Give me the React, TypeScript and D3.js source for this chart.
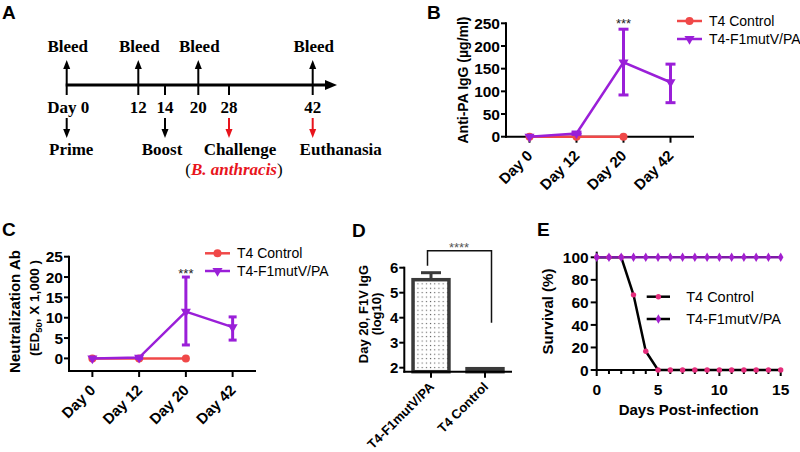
import React from "react";
import * as d3 from "d3";

const SANS = "'Liberation Sans', Arial, Helvetica, sans-serif";
const SERIF = "'Liberation Serif', 'Times New Roman', Times, serif";

// ---------- Panel A: timeline ----------
const timelineDays = [0, 12, 14, 20, 28, 42];
const timelineDayLabels = ["Day 0", "12", "14", "20", "28", "42"];
const bleedDays = [0, 12, 20, 42];
const eventDays = [0, 14, 28, 42];
const eventLabels = ["Prime", "Boost", "Challenge", "Euthanasia"];
const eventIsChallenge = [false, false, true, true];

// ---------- Panels B & C ----------
const categories = ["Day 0", "Day 12", "Day 20", "Day 42"];
const legendNames = ["T4 Control", "T4-F1mutV/PA"];

const bControl = [0, 0, 0];
const bVaccine = [0, 7, 164, 120];
const bVaccineLow = [0, 5, 92, 75];
const bVaccineHigh = [0, 9, 237, 160];
const bTicks = [0, 50, 100, 150, 200, 250];

const cControl = [0, 0, 0];
const cVaccine = [0, 0.2, 11.5, 7.7];
const cVaccineLow = [0, 0, 3.3, 4.5];
const cVaccineHigh = [0, 0.4, 20, 10.2];
const cTicks = [0, 5, 10, 15, 20, 25];

// ---------- Panel D ----------
const dGroups = ["T4-F1mutV/PA", "T4 Control"];
const dMeans = [5.52, 1.96];
const dSD = [0.28, 0];
const dTicks = [2, 3, 4, 5, 6];

// ---------- Panel E ----------
const eDays = [0, 1, 2, 3, 4, 5, 6, 7, 8, 9, 10, 11, 12, 13, 14, 15];
const eControl = [100, 100, 100, 66.7, 16.7, 0, 0, 0, 0, 0, 0, 0, 0, 0, 0, 0];
const eVaccine = [100, 100, 100, 100, 100, 100, 100, 100, 100, 100, 100, 100, 100, 100, 100, 100];
const eYTicks = [0, 20, 40, 60, 80, 100];
const eXTicks = [0, 5, 10, 15];

const RED = "#f04848";
const PURPLE = "#9a1fd8";
const ARROW_RED = "#e8141c";
const PINK = "#e52d7c";
const PURPLE_E = "#a21fcf";

function PanelLabel({ x, y, text }: { x: number; y: number; text: string }) {
  return (
    <text x={x} y={y} fontFamily={SANS} fontWeight="bold" fontSize={19}>
      {text}
    </text>
  );
}

function PanelA() {
  const x = d3.scaleLinear().domain(timelineDays).range([66.7, 138.3, 165, 198.3, 229, 312.7]);
  const yL = 85;
  const labelDx = [4.5, -3, 11, 28];
  return (
    <g>
      <line x1={x(0) - 1} x2={327} y1={yL} y2={yL} stroke="#000" strokeWidth={3} />
      <polygon points={`325,${yL - 5} 337,${yL} 325,${yL + 5}`} fill="#000" />
      {timelineDays.map((d, i) => (
        <g key={"t" + i}>
          <line x1={x(d)} x2={x(d)} y1={yL} y2={yL + 10} stroke="#000" strokeWidth={2} />
          <text
            x={x(d) + (i === 0 ? 1.5 : 0)}
            y={113}
            textAnchor="middle"
            fontFamily={SERIF}
            fontWeight="bold"
            fontSize={17}
          >
            {timelineDayLabels[i]}
          </text>
        </g>
      ))}
      {bleedDays.map((d, i) => (
        <g key={"b" + i}>
          <line x1={x(d)} x2={x(d)} y1={yL} y2={68} stroke="#000" strokeWidth={2} />
          <polygon points={`${x(d) - 3.5},69 ${x(d)},60 ${x(d) + 3.5},69`} fill="#000" />
          <text x={x(d) + 1} y={51.5} textAnchor="middle" fontFamily={SERIF} fontWeight="bold" fontSize={17}>
            Bleed
          </text>
        </g>
      ))}
      {eventDays.map((d, i) => {
        const col = eventIsChallenge[i] ? ARROW_RED : "#000";
        return (
          <g key={"e" + i}>
            <line x1={x(d)} x2={x(d)} y1={118} y2={130} stroke={col} strokeWidth={2} />
            <polygon points={`${x(d) - 3.5},129 ${x(d)},138 ${x(d) + 3.5},129`} fill={col} />
            <text
              x={x(d) + labelDx[i]}
              y={155}
              textAnchor="middle"
              fontFamily={SERIF}
              fontWeight="bold"
              fontSize={17}
            >
              {eventLabels[i]}
            </text>
          </g>
        );
      })}
      <text x={x(28) + 5} y={175} textAnchor="middle" fontFamily={SERIF} fontSize={17}>
        (
        <tspan fill={ARROW_RED} fontWeight="bold" fontStyle="italic">
          B. anthracis
        </tspan>
        )
      </text>
    </g>
  );
}

interface LineProps {
  xRange: [number, number];
  yDomain: [number, number];
  yRange: [number, number];
  yTop: number;
  ticks: number[];
  control: number[];
  vaccine: number[];
  low: number[];
  high: number[];
  capW: number;
  legendX: number;
  legendY: number;
  legendGap: number;
  starY: number;
}

function LineChart(p: LineProps) {
  const x = d3.scaleBand<string>().domain(categories).range(p.xRange);
  const y = d3.scaleLinear().domain(p.yDomain).range(p.yRange);
  const cx = (i: number) => (x(categories[i]) ?? 0) + x.bandwidth() / 2;
  const x0 = p.xRange[0];
  const y0 = p.yRange[0];
  const line = d3
    .line<number>()
    .x((_, i) => cx(i))
    .y((d) => y(d));
  const tri = d3.symbol().type(d3.symbolTriangle).size(44)() as string;
  return (
    <g fontFamily={SANS}>
      {/* axes */}
      <line x1={x0} x2={x0} y1={y0 + 1} y2={y(p.yTop) - 1} stroke="#000" strokeWidth={2} />
      <line x1={x0 - 1} x2={p.xRange[1]} y1={y0} y2={y0} stroke="#000" strokeWidth={2} />
      {p.ticks.map((t) => (
        <g key={"yt" + t}>
          <line x1={x0 - 5} x2={x0} y1={y(t)} y2={y(t)} stroke="#000" strokeWidth={2} />
          <text x={x0 - 6} y={y(t)} dy="0.36em" textAnchor="end" fontWeight="bold" fontSize={15.5}>
            {t}
          </text>
        </g>
      ))}
      {categories.map((c, i) => (
        <g key={"xt" + c}>
          <line x1={cx(i)} x2={cx(i)} y1={y0} y2={y0 + 6} stroke="#000" strokeWidth={2} />
          <text
            transform={`translate(${cx(i) + 4},${y0 + 20}) rotate(-45)`}
            textAnchor="end"
            fontWeight="bold"
            fontSize={15}
          >
            {c}
          </text>
        </g>
      ))}
      {/* control */}
      <path d={line(p.control) ?? ""} fill="none" stroke={RED} strokeWidth={2.5} />
      {p.control.map((v, i) => (
        <circle key={"cc" + i} cx={cx(i)} cy={y(v)} r={4} fill={RED} />
      ))}
      {/* vaccine */}
      <path d={line(p.vaccine) ?? ""} fill="none" stroke={PURPLE} strokeWidth={2.5} />
      {p.vaccine.map((v, i) =>
        p.high[i] - p.low[i] > 0.01 ? (
          <g key={"eb" + i} stroke={PURPLE} strokeWidth={3}>
            <line x1={cx(i)} x2={cx(i)} y1={y(p.low[i])} y2={y(p.high[i])} />
            <line x1={cx(i) - p.capW / 2} x2={cx(i) + p.capW / 2} y1={y(p.low[i])} y2={y(p.low[i])} />
            <line x1={cx(i) - p.capW / 2} x2={cx(i) + p.capW / 2} y1={y(p.high[i])} y2={y(p.high[i])} />
          </g>
        ) : null
      )}
      {p.vaccine.map((v, i) => (
        <path key={"vt" + i} d={tri} transform={`translate(${cx(i)},${y(v)}) rotate(180)`} fill={PURPLE} />
      ))}
      <text x={cx(2)} y={p.starY} textAnchor="middle" fontSize={13} fill="#222">
        ***
      </text>
      {/* legend */}
      {legendNames.map((n, i) => {
        const ly = p.legendY + i * p.legendGap;
        const col = i === 0 ? RED : PURPLE;
        return (
          <g key={"lg" + i}>
            <line x1={p.legendX} x2={p.legendX + 25} y1={ly} y2={ly} stroke={col} strokeWidth={2.5} />
            {i === 0 ? (
              <circle cx={p.legendX + 12.5} cy={ly} r={4} fill={col} />
            ) : (
              <path d={tri} transform={`translate(${p.legendX + 12.5},${ly}) rotate(180)`} fill={col} />
            )}
            <text x={p.legendX + 32} y={ly} dy="0.36em" fontSize={14}>
              {n}
            </text>
          </g>
        );
      })}
    </g>
  );
}

function PanelB() {
  return (
    <g>
      <LineChart
        xRange={[506, 694]}
        yDomain={[0, 250]}
        yRange={[136.7, 23.3]}
        yTop={250}
        ticks={bTicks}
        control={bControl}
        vaccine={bVaccine}
        low={bVaccineLow}
        high={bVaccineHigh}
        capW={10}
        legendX={677}
        legendY={21}
        legendGap={18}
        starY={28}
      />
      <text
        transform="translate(468,80) rotate(-90)"
        textAnchor="middle"
        fontFamily={SANS}
        fontWeight="bold"
        fontSize={14}
      >
        Anti-PA IgG (µg/ml)
      </text>
    </g>
  );
}

function PanelC() {
  return (
    <g>
      <LineChart
        xRange={[69, 256]}
        yDomain={[-3.1, 25]}
        yRange={[371, 256.7]}
        yTop={25}
        ticks={cTicks}
        control={cControl}
        vaccine={cVaccine}
        low={cVaccineLow}
        high={cVaccineHigh}
        capW={8}
        legendX={205}
        legendY={253.3}
        legendGap={17.7}
        starY={278}
      />
      <text
        transform="translate(19.5,311.5) rotate(-90)"
        textAnchor="middle"
        fontFamily={SANS}
        fontWeight="bold"
        fontSize={15}
      >
        Neutralization Ab
      </text>
      <text
        transform="translate(38.5,308) rotate(-90)"
        textAnchor="middle"
        fontFamily={SANS}
        fontWeight="bold"
        fontSize={13.5}
      >
        (ED
        <tspan fontSize={9.5} dy={3}>
          50
        </tspan>
        <tspan dy={-3}>, X 1,000 )</tspan>
      </text>
    </g>
  );
}

function PanelD() {
  const x = d3.scaleBand<string>().domain(dGroups).range([404, 512]).paddingInner(0.27).paddingOuter(0.135);
  const y = d3.scaleLinear().domain([1.84, 6]).range([371.7, 267.7]);
  const x0 = 404.3;
  const y0 = 371.7;
  const c = (i: number) => (x(dGroups[i]) ?? 0) + x.bandwidth() / 2;
  const bracketTop = y(6) - 17;
  return (
    <g fontFamily={SANS}>
      <defs>
        <pattern id="dotPat" width="4.2" height="4.4" patternUnits="userSpaceOnUse">
          <rect width="4.2" height="4.4" fill="#fff" />
          <rect x="1.6" y="1.7" width="1.1" height="1.1" fill="#555" />
        </pattern>
        <pattern id="dashPat" width="6" height="3" patternUnits="userSpaceOnUse">
          <rect width="6" height="3" fill="#fff" />
          <line x1="0.5" x2="4" y1="1.5" y2="1.5" stroke="#555" strokeWidth="1" />
        </pattern>
      </defs>
      {dGroups.map((g, i) => (
        <rect
          key={"bar" + i}
          x={x(g)! + 1.75}
          width={x.bandwidth() - 3.5}
          y={y(dMeans[i])}
          height={y0 - y(dMeans[i])}
          fill={i === 0 ? "url(#dotPat)" : "url(#dashPat)"}
          stroke="#3a3a3a"
          strokeWidth={3.5}
        />
      ))}
      {dGroups.map((g, i) =>
        dSD[i] > 0 ? (
          <g key={"err" + i} stroke="#3a3a3a" strokeWidth={3}>
            <line x1={c(i)} x2={c(i)} y1={y(dMeans[i]) - 1.5} y2={y(dMeans[i] + dSD[i])} />
            <line x1={c(i) - 10} x2={c(i) + 10} y1={y(dMeans[i] + dSD[i])} y2={y(dMeans[i] + dSD[i])} />
          </g>
        ) : null
      )}
      {/* axes */}
      <line x1={x0} x2={x0} y1={y0 + 1} y2={y(6) - 1} stroke="#000" strokeWidth={2} />
      <line x1={x0 - 1} x2={512} y1={y0} y2={y0} stroke="#000" strokeWidth={2} />
      {dTicks.map((t) => (
        <g key={"dt" + t}>
          <line x1={x0 - 5} x2={x0} y1={y(t)} y2={y(t)} stroke="#000" strokeWidth={2} />
          <text x={x0 - 6} y={y(t)} dy="0.36em" textAnchor="end" fontWeight="bold" fontSize={15}>
            {t}
          </text>
        </g>
      ))}
      {dGroups.map((g, i) => (
        <g key={"dx" + i}>
          <line x1={c(i)} x2={c(i)} y1={y0} y2={y0 + 6} stroke="#000" strokeWidth={2} />
          <text
            transform={`translate(${c(i) + 4},${y0 + 16}) rotate(-45)`}
            textAnchor="end"
            fontWeight="bold"
            fontSize={13}
          >
            {g}
          </text>
        </g>
      ))}
      {/* significance bracket */}
      <path
        d={`M${c(0) - 3.5},${y(5.8) - 7} V${bracketTop} H${c(1) + 6.5} V${y(3.8)}`}
        fill="none"
        stroke="#111"
        strokeWidth={1.5}
      />
      <text x={(c(0) + c(1)) / 2 + 1} y={bracketTop + 1} textAnchor="middle" fontSize={13} fill="#555">
        ****
      </text>
      <text
        transform="translate(368,314) rotate(-90)"
        textAnchor="middle"
        fontWeight="bold"
        fontSize={13}
      >
        Day 20,  F1V IgG
      </text>
      <text
        transform="translate(381,314) rotate(-90)"
        textAnchor="middle"
        fontWeight="bold"
        fontSize={13}
      >
        (log10)
      </text>
    </g>
  );
}

function PanelE() {
  const x = d3.scaleLinear().domain([0, 15]).range([596.7, 780.7]);
  const y = d3.scaleLinear().domain([0, 100]).range([370, 257.3]);
  const x0 = x(0);
  const y0 = y(0);
  const line = d3
    .line<number>()
    .x((_, i) => x(eDays[i]))
    .y((d) => y(d));
  const diamond = d3.symbol().type(d3.symbolDiamond).size(26)() as string;
  const minor = x.ticks(15);
  const legendX = 646.7;
  const legendY = 296.7;
  return (
    <g fontFamily={SANS}>
      <line x1={x0} x2={x0} y1={y0 + 1} y2={y(105)} stroke="#000" strokeWidth={2} />
      <line x1={x0 - 1} x2={x(15) + 1} y1={y0} y2={y0} stroke="#000" strokeWidth={2} />
      {eYTicks.map((t) => (
        <g key={"ey" + t}>
          <line x1={x0 - 6} x2={x0} y1={y(t)} y2={y(t)} stroke="#000" strokeWidth={2} />
          <text x={x0 - 8} y={y(t)} dy="0.36em" textAnchor="end" fontWeight="bold" fontSize={15.5}>
            {t}
          </text>
        </g>
      ))}
      {minor.map((t) => (
        <line
          key={"mn" + t}
          x1={x(t)}
          x2={x(t)}
          y1={y0}
          y2={y0 + (eXTicks.includes(t) ? 6 : 4)}
          stroke="#000"
          strokeWidth={2}
        />
      ))}
      {eXTicks.map((t) => (
        <text key={"ex" + t} x={x(t)} y={395} textAnchor="middle" fontWeight="bold" fontSize={15.5}>
          {t}
        </text>
      ))}
      <path d={line(eControl) ?? ""} fill="none" stroke="#000" strokeWidth={2.5} />
      <path d={line(eVaccine) ?? ""} fill="none" stroke="#7d1aa6" strokeWidth={2.5} />
      {eControl.map((v, i) => (
        <circle key={"ec" + i} cx={x(eDays[i])} cy={y(v)} r={2.7} fill={PINK} />
      ))}
      {eVaccine.map((v, i) => (
        <path key={"ev" + i} d={diamond} transform={`translate(${x(eDays[i])},${y(v)})`} fill={PURPLE_E} />
      ))}
      {legendNames.map((n, i) => {
        const ly = legendY + i * 22.3;
        return (
          <g key={"el" + i}>
            <line x1={legendX} x2={legendX + 23.3} y1={ly} y2={ly} stroke="#000" strokeWidth={2.5} />
            {i === 0 ? (
              <circle cx={legendX + 11.7} cy={ly} r={2.7} fill={PINK} />
            ) : (
              <path d={diamond} transform={`translate(${legendX + 11.7},${ly})`} fill={PURPLE_E} />
            )}
            <text x={legendX + 39.5} y={ly} dy="0.36em" fontSize={14.5}>
              {n}
            </text>
          </g>
        );
      })}
      <text
        transform="translate(552.5,311.5) rotate(-90)"
        textAnchor="middle"
        fontWeight="bold"
        fontSize={15}
      >
        Survival (%)
      </text>
      <text x={688.7} y={415} textAnchor="middle" fontWeight="bold" fontSize={15}>
        Days Post-infection
      </text>
    </g>
  );
}

export default function App() {
  return (
    <svg
      width={800}
      height={452}
      viewBox="0 0 800 452"
      style={{ position: "absolute", left: 0, top: 0, display: "block", background: "#fff" }}
    >
      <rect width={800} height={452} fill="#fff" />
      <PanelLabel x={2} y={18.5} text="A" />
      <PanelLabel x={427} y={18.5} text="B" />
      <PanelLabel x={2} y={236} text="C" />
      <PanelLabel x={352} y={237} text="D" />
      <PanelLabel x={537} y={235.7} text="E" />
      <PanelA />
      <PanelB />
      <PanelC />
      <PanelD />
      <PanelE />
    </svg>
  );
}
